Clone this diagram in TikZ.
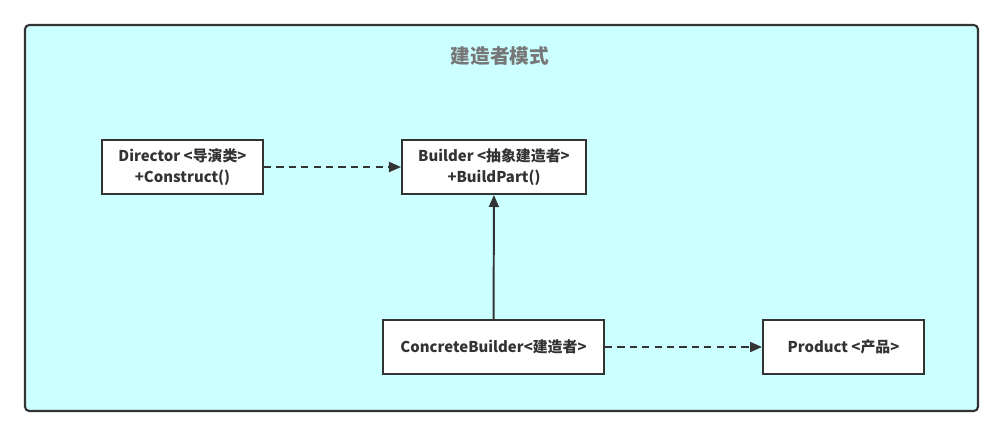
\documentclass[tikz,border=0pt]{standalone}
\usepackage{fontspec}
\setmainfont{Noto Sans CJK SC}
\usepackage{tikz}
\usetikzlibrary{arrows.meta, positioning, calc}
\definecolor{framecyan}{HTML}{CCFFFF}
\definecolor{linegray}{HTML}{333333}
\definecolor{titlegray}{HTML}{777777}

\begin{document}
\begin{tikzpicture}[x=0.025cm, y=-0.025cm,
    umlbox/.style={draw=linegray, fill=white, line width=1.4pt, align=center,
      minimum height=1.35cm, inner sep=2pt, font=\fontsize{10.6}{15}\selectfont\bfseries,
      text=linegray},
    depline/.style={draw=linegray, line width=1.4pt, dash pattern=on 0.18cm off 0.13cm,
      -{Triangle[length=0.3cm, width=0.25cm]}},
    inhline/.style={draw=linegray, line width=1.4pt,
      -{Triangle[length=0.3cm, width=0.25cm]}}]
  \useasboundingbox (0,0) rectangle (1003,437);

  % Frame and title
  \draw[linegray, line width=1.5pt, fill=framecyan, rounded corners=3pt] (25,25) rectangle (978,411);
  \node[font=\fontsize{14}{16}\selectfont\bfseries, text=titlegray] (title) at (500,56) {建造者模式};

  % Classes
  \node[umlbox, minimum width=4.025cm] (director) at (182.5,167) {Director <导演类>\\+Construct()};
  \node[umlbox, minimum width=4.6cm] (builder) at (494,167) {Builder <抽象建造者>\\+BuildPart()};
  \node[umlbox, minimum width=5.525cm] (concrete) at (493.5,347) {ConcreteBuilder<建造者>};
  \node[umlbox, minimum width=4.025cm] (product) at (843.5,347) {Product <产品>};

  % Relations
  \draw[depline] (director) -- (builder);
  \draw[inhline] (concrete) -- (builder);
  \draw[depline] (concrete) -- (product);
\end{tikzpicture}
\end{document}
